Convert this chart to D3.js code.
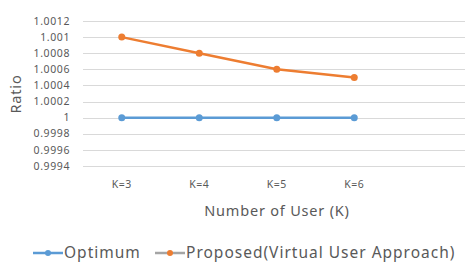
<!DOCTYPE html>
<html>
<head>
<meta charset="utf-8">
<script src="https://cdn.jsdelivr.net/npm/d3@7"></script>
<style>
body { margin: 0; background: #fff; }
svg { font-family: "Noto Sans", "Open Sans", sans-serif; }
</style>
</head>
<body>
<script>
// chart data
var categories = ["K=3", "K=4", "K=5", "K=6", ""];
var optimum = [1, 1, 1, 1];
var proposed = [1.001, 1.0008, 1.0006, 1.0005];
var yTicks = [0.9994, 0.9996, 0.9998, 1, 1.0002, 1.0004, 1.0006, 1.0008, 1.001, 1.0012];

var width = 465, height = 263;

var svg = d3.select("body").append("svg")
    .attr("width", width)
    .attr("height", height);

var x = d3.scaleBand()
    .domain(categories)
    .range([83, 470.5]);

var y = d3.scaleLinear()
    .domain([0.9994, 1.0012])
    .range([166, 21]);

// gridlines
svg.append("g")
    .selectAll("line")
    .data(yTicks)
    .enter().append("line")
    .attr("x1", 83)
    .attr("x2", width)
    .attr("y1", function(d) { return Math.round(y(d)) + 0.5; })
    .attr("y2", function(d) { return Math.round(y(d)) + 0.5; })
    .attr("stroke", "#d9d9d9")
    .attr("stroke-width", 1);

// y tick labels
svg.append("g")
    .selectAll("text")
    .data(yTicks)
    .enter().append("text")
    .attr("x", 70)
    .attr("y", function(d) { return y(d); })
    .attr("dy", "0.35em")
    .attr("text-anchor", "end")
    .attr("font-size", 10.5)
    .attr("letter-spacing", 0.6)
    .attr("fill", "#595959")
    .text(function(d) { return d3.format("")(+d.toFixed(4)); });

// x tick labels
svg.append("g")
    .selectAll("text")
    .data(categories)
    .enter().append("text")
    .attr("x", function(d) { return x(d) + x.bandwidth() / 2; })
    .attr("y", 188)
    .attr("text-anchor", "middle")
    .attr("font-size", 10.5)
    .attr("letter-spacing", 0.5)
    .attr("fill", "#595959")
    .text(function(d) { return d; });

// axis titles
svg.append("text")
    .attr("x", 277)
    .attr("y", 216)
    .attr("text-anchor", "middle")
    .attr("font-size", 14.5)
    .attr("letter-spacing", 0.8)
    .attr("fill", "#595959")
    .text("Number of User (K)");

svg.append("text")
    .attr("transform", "translate(21,94) rotate(-90)")
    .attr("text-anchor", "middle")
    .attr("font-size", 14.5)
    .attr("letter-spacing", 0.8)
    .attr("fill", "#595959")
    .text("Ratio");

var line = d3.line()
    .x(function(d, i) { return x(categories[i]) + x.bandwidth() / 2; })
    .y(function(d) { return y(d); });

var series = [
    { name: "Optimum", values: optimum, color: "#5b9bd5" },
    { name: "Proposed", values: proposed, color: "#ed7d31" }
];

series.forEach(function(s) {
    svg.append("path")
        .datum(s.values)
        .attr("fill", "none")
        .attr("stroke", s.color)
        .attr("stroke-width", 2.5)
        .attr("d", line);
    svg.selectAll(".dot-" + s.name)
        .data(s.values)
        .enter().append("circle")
        .attr("cx", function(d, i) { return x(categories[i]) + x.bandwidth() / 2; })
        .attr("cy", function(d) { return y(d); })
        .attr("r", 3.5)
        .attr("fill", s.color);
});

// legend
var legend = [
    { label: "Optimum", line: "#5b9bd5", dot: "#5b9bd5", x: 33 },
    { label: "Proposed(Virtual User Approach)", line: "#a5a5a5", dot: "#ed7d31", x: 155 }
];
var lg = svg.append("g").selectAll("g")
    .data(legend)
    .enter().append("g")
    .attr("transform", function(d) { return "translate(" + d.x + ",253)"; });
lg.append("line")
    .attr("x1", 0).attr("x2", 30)
    .attr("stroke", function(d) { return d.line; })
    .attr("stroke-width", 2.5);
lg.append("circle")
    .attr("cx", 15).attr("r", 3)
    .attr("fill", function(d) { return d.dot; });
lg.append("text")
    .attr("x", 31)
    .attr("dy", "0.35em")
    .attr("font-size", 15.5)
    .attr("letter-spacing", 1)
    .attr("fill", "#595959")
    .text(function(d) { return d.label; });
</script>
</body>
</html>
